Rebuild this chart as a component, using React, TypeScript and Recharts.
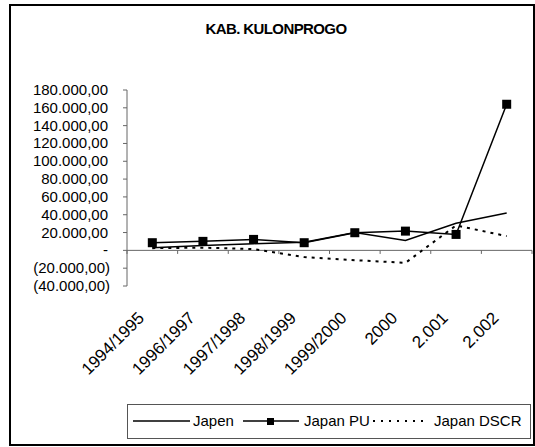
import React from 'react';
import { LineChart, Line, XAxis, YAxis, ReferenceLine } from 'recharts';

const years = ['1994/1995', '1996/1997', '1997/1998', '1998/1999', '1999/2000', '2000', '2.001', '2.002'];
const japen = [3000, 5500, 7500, 9000, 20000, 11000, 30500, 42000];
const japanPU = [8600, 10100, 12300, 8600, 19800, 21600, 17900, 164000];
const japanDSCR = [2500, 3000, 1500, -7500, -11000, -14000, 28000, 16000];
const yTicks = [-40000, -20000, 0, 20000, 40000, 60000, 80000, 100000, 120000, 140000, 160000, 180000];

const data = years.map((year, i) => ({
  year,
  japen: japen[i],
  pu: japanPU[i],
  dscr: japanDSCR[i],
}));

const FONT = '"Liberation Sans", Arial, sans-serif';

const fmt = (v: number) =>
  Math.abs(v).toLocaleString('de-DE', { minimumFractionDigits: 2, maximumFractionDigits: 2 });

const YTick = (props: any) => {
  const { x, y, payload } = props;
  const v = payload.value as number;
  const label = v === 0 ? '-' : v < 0 ? `(${fmt(v)})` : fmt(v);
  return (
    <text x={v < 0 ? x : x - 2} y={y} dy={5} textAnchor="end" fontSize={15} fontFamily={FONT} fill="#000">
      {label}
    </text>
  );
};

const XTick = (props: any) => {
  const { x, y, payload } = props;
  const tx = x - 7;
  const ty = y + 25;
  return (
    <text x={tx} y={ty} textAnchor="end" fontSize={17} fontFamily={FONT} fill="#000" transform={`rotate(-45, ${tx}, ${ty})`}>
      {payload.value}
    </text>
  );
};

const SquareDot = (props: any) => {
  const { cx, cy, size = 9 } = props;
  if (cx == null || cy == null) return null;
  return <rect x={cx - size / 2} y={cy - size / 2} width={size} height={size} fill="#000" />;
};

export default function App() {
  return (
    <div style={{ position: 'relative', width: 535, height: 447, fontFamily: FONT, background: '#fff', overflow: 'hidden' }}>
      <style>{'body{margin:0}'}</style>
      <div
        style={{
          position: 'absolute',
          left: 0,
          width: 552,
          top: 20,
          textAlign: 'center',
          fontSize: 15,
          fontWeight: 'bold',
          letterSpacing: -0.6,
          lineHeight: '18px',
        }}
      >
        KAB. KULONPROGO
      </div>
      <div style={{ position: 'absolute', left: 0, top: 0 }}>
        <LineChart width={535} height={447} data={data} margin={{ top: 90, right: 3, left: 27, bottom: 101 }}>
          <XAxis
            dataKey="year"
            scale="band"
            interval={0}
            axisLine={false}
            tickLine={false}
            height={60}
            tick={<XTick />}
          />
          <YAxis
            width={100}
            domain={[-40000, 180000]}
            ticks={yTicks}
            interval={0}
            axisLine={{ stroke: '#666' }}
            tickLine={{ stroke: '#666' }}
            tickSize={4}
            tickMargin={13}
            tick={<YTick />}
          />
          <ReferenceLine y={0} stroke="#666" />
          {years.map((c) => (
            <ReferenceLine
              key={c}
              position="start"
              segment={[{ x: c, y: 0 }, { x: c, y: -4000 }]}
              stroke="#666"
            />
          ))}
          <ReferenceLine
            position="end"
            segment={[{ x: years[years.length - 1], y: 0 }, { x: years[years.length - 1], y: -4000 }]}
            stroke="#666"
          />
          <Line dataKey="japen" stroke="#000" strokeWidth={1.5} dot={false} isAnimationActive={false} />
          <Line dataKey="pu" stroke="#000" strokeWidth={1.5} dot={<SquareDot />} isAnimationActive={false} />
          <Line
            dataKey="dscr"
            stroke="#000"
            strokeWidth={2}
            strokeDasharray="3 5"
            dot={false}
            isAnimationActive={false}
          />
        </LineChart>
      </div>
      <svg width={404} height={35} style={{ position: 'absolute', left: 127, top: 404 }}>
        <rect x={0.5} y={0.5} width={403} height={34} fill="#fff" stroke="#555" />
        <line x1={6} x2={63} y1={17} y2={17} stroke="#000" strokeWidth={1.5} />
        <text x={66} y={22} fontSize={15} fontFamily={FONT}>Japen</text>
        <line x1={116} x2={172} y1={17} y2={17} stroke="#000" strokeWidth={1.5} />
        <rect x={140} y={14} width={7} height={7} fill="#000" />
        <text x={177} y={22} fontSize={15} fontFamily={FONT}>Japan PU</text>
        <line x1={246} x2={301} y1={17} y2={17} stroke="#000" strokeWidth={2} strokeDasharray="2 6" />
        <text x={307} y={22} fontSize={15} fontFamily={FONT}>Japan DSCR</text>
      </svg>
      <svg width={535} height={447} style={{ position: 'absolute', left: 0, top: 0, pointerEvents: 'none' }}>
        <rect x={10} y={5} width={524} height={440} fill="none" stroke="#000" strokeWidth={2} />
      </svg>
    </div>
  );
}
